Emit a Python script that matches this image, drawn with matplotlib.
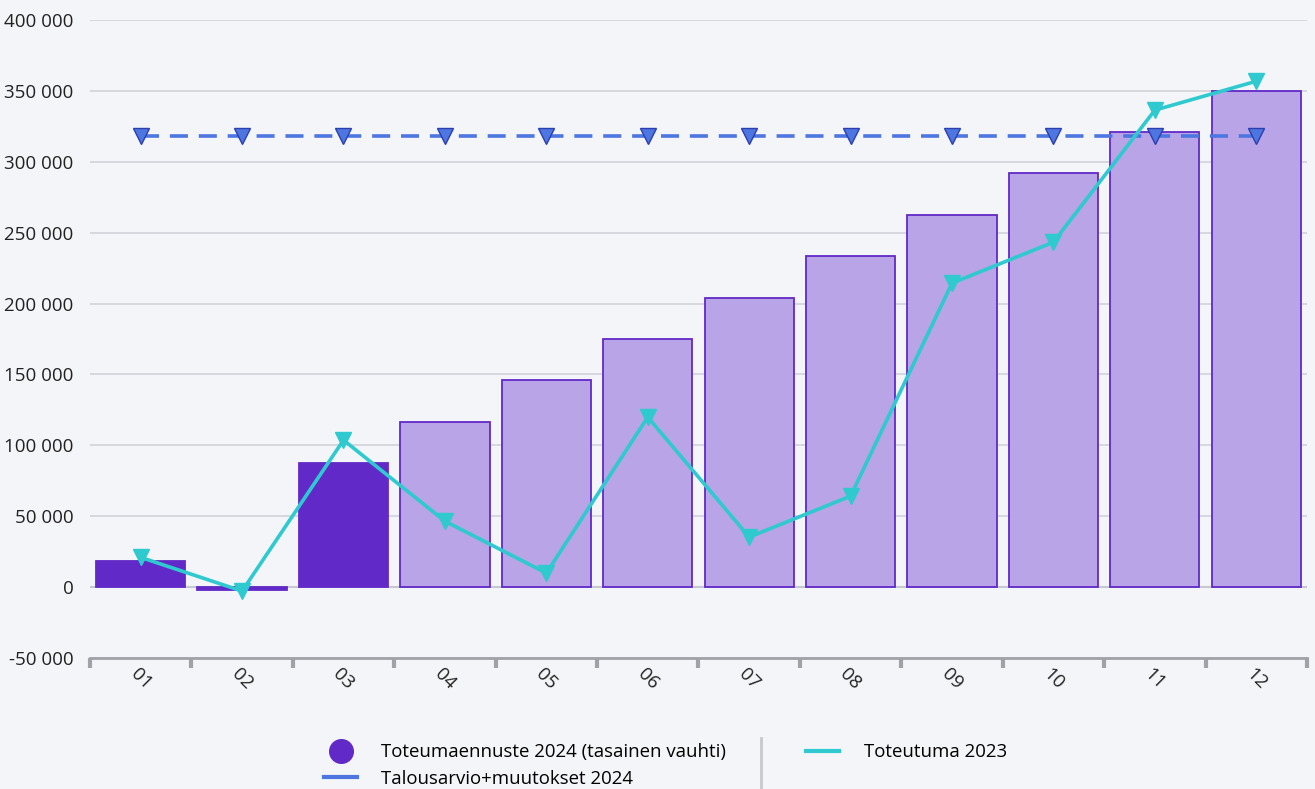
import numpy as np
import matplotlib.pyplot as plt
from matplotlib.lines import Line2D
from matplotlib.ticker import FuncFormatter

# Kuukaudet ja arvot
kuukaudet = ['01', '02', '03', '04', '05', '06', '07', '08', '09', '10', '11', '12']
toteuma_2024 = [18300, -2000, 87400, 116600, 145800, 175000, 204200, 233400, 262600, 291800, 321000, 350200]
toteutunut = [True, True, True, False, False, False, False, False, False, False, False, False]
talousarvio_2024 = [318000] * 12
toteutuma_2023 = [21000, -2800, 103700, 46500, 9900, 119900, 35300, 64200, 214400, 243300, 336400, 356800]

bg = '#f4f5f9'
tumma = '#6129c8'
vaalea = '#b8a4e6'
syaani = '#2ecad0'
sininen = '#4d76e0'

plt.rcParams['font.family'] = ['Open Sans', 'DejaVu Sans']

fig = plt.figure(figsize=(13.15, 7.89), dpi=100, facecolor=bg)
ax = fig.add_axes([0.0684, 0.166, 0.9255, 0.8087])
ax.set_facecolor(bg)

x = np.arange(len(kuukaudet))
varit = [tumma if t else vaalea for t in toteutunut]
ax.bar(x, toteuma_2024, width=0.88, color=varit, edgecolor=tumma, linewidth=1.3, zorder=2)

ax.plot(x, talousarvio_2024, color=sininen, linewidth=2.6, linestyle=(0, (5, 3)),
        marker='v', markersize=12, markerfacecolor=sininen, markeredgecolor='#2b3fae',
        markeredgewidth=1, zorder=3)
ax.plot(x, toteutuma_2023, color=syaani, linewidth=2.6, marker='v', markersize=12,
        markerfacecolor=syaani, markeredgecolor=syaani, zorder=4)

ax.set_xlim(-0.5, 11.5)
ax.set_ylim(-50000, 400000)
ax.set_yticks(np.arange(-50000, 400001, 50000))
ax.yaxis.set_major_formatter(FuncFormatter(lambda v, p: f'{int(v):,}'.replace(',', ' ')))
ax.grid(axis='y', color='#d2d3d9', linewidth=1.2, zorder=0)
ax.axhline(0, color='#c6c7cf', linewidth=1.5, zorder=1)
ax.set_axisbelow(True)

ax.set_xticks(x)
ax.set_xticklabels(kuukaudet, rotation=-45, ha='center', va='center', rotation_mode='anchor')
ax.set_xticks(np.arange(-0.5, 12, 1), minor=True)
ax.tick_params(axis='x', which='major', length=0, pad=15, labelsize=13.5, colors='#222222')
ax.tick_params(axis='x', which='minor', length=7, width=3, color='#a0a2a8', direction='out')
ax.tick_params(axis='y', length=0, labelsize=13.5, colors='#222222', pad=12)

for s in ['top', 'right', 'left']:
    ax.spines[s].set_visible(False)
ax.spines['bottom'].set_color('#a0a2a8')
ax.spines['bottom'].set_linewidth(2)

# Selite
kahvat = [
    Line2D([], [], linestyle='none', marker='o', markersize=17, color=tumma),
    Line2D([], [], color=sininen, linewidth=3),
    Line2D([], [], color=syaani, linewidth=3),
]
nimet = ['Toteumaennuste 2024 (tasainen vauhti)', 'Talousarvio+muutokset 2024', 'Toteutuma 2023']
fig.legend(kahvat, nimet, loc='upper left', bbox_to_anchor=(0.2335, 0.079), ncol=2,
           frameon=False, fontsize=13.4, handlelength=1.8, handletextpad=1.3,
           columnspacing=4.27, labelspacing=0.45)
fig.add_artist(Line2D([761 / 1315, 761 / 1315], [0, 51 / 789], color='#c8c9cf', linewidth=2))

plt.savefig('out.png', dpi=100, facecolor=bg)
